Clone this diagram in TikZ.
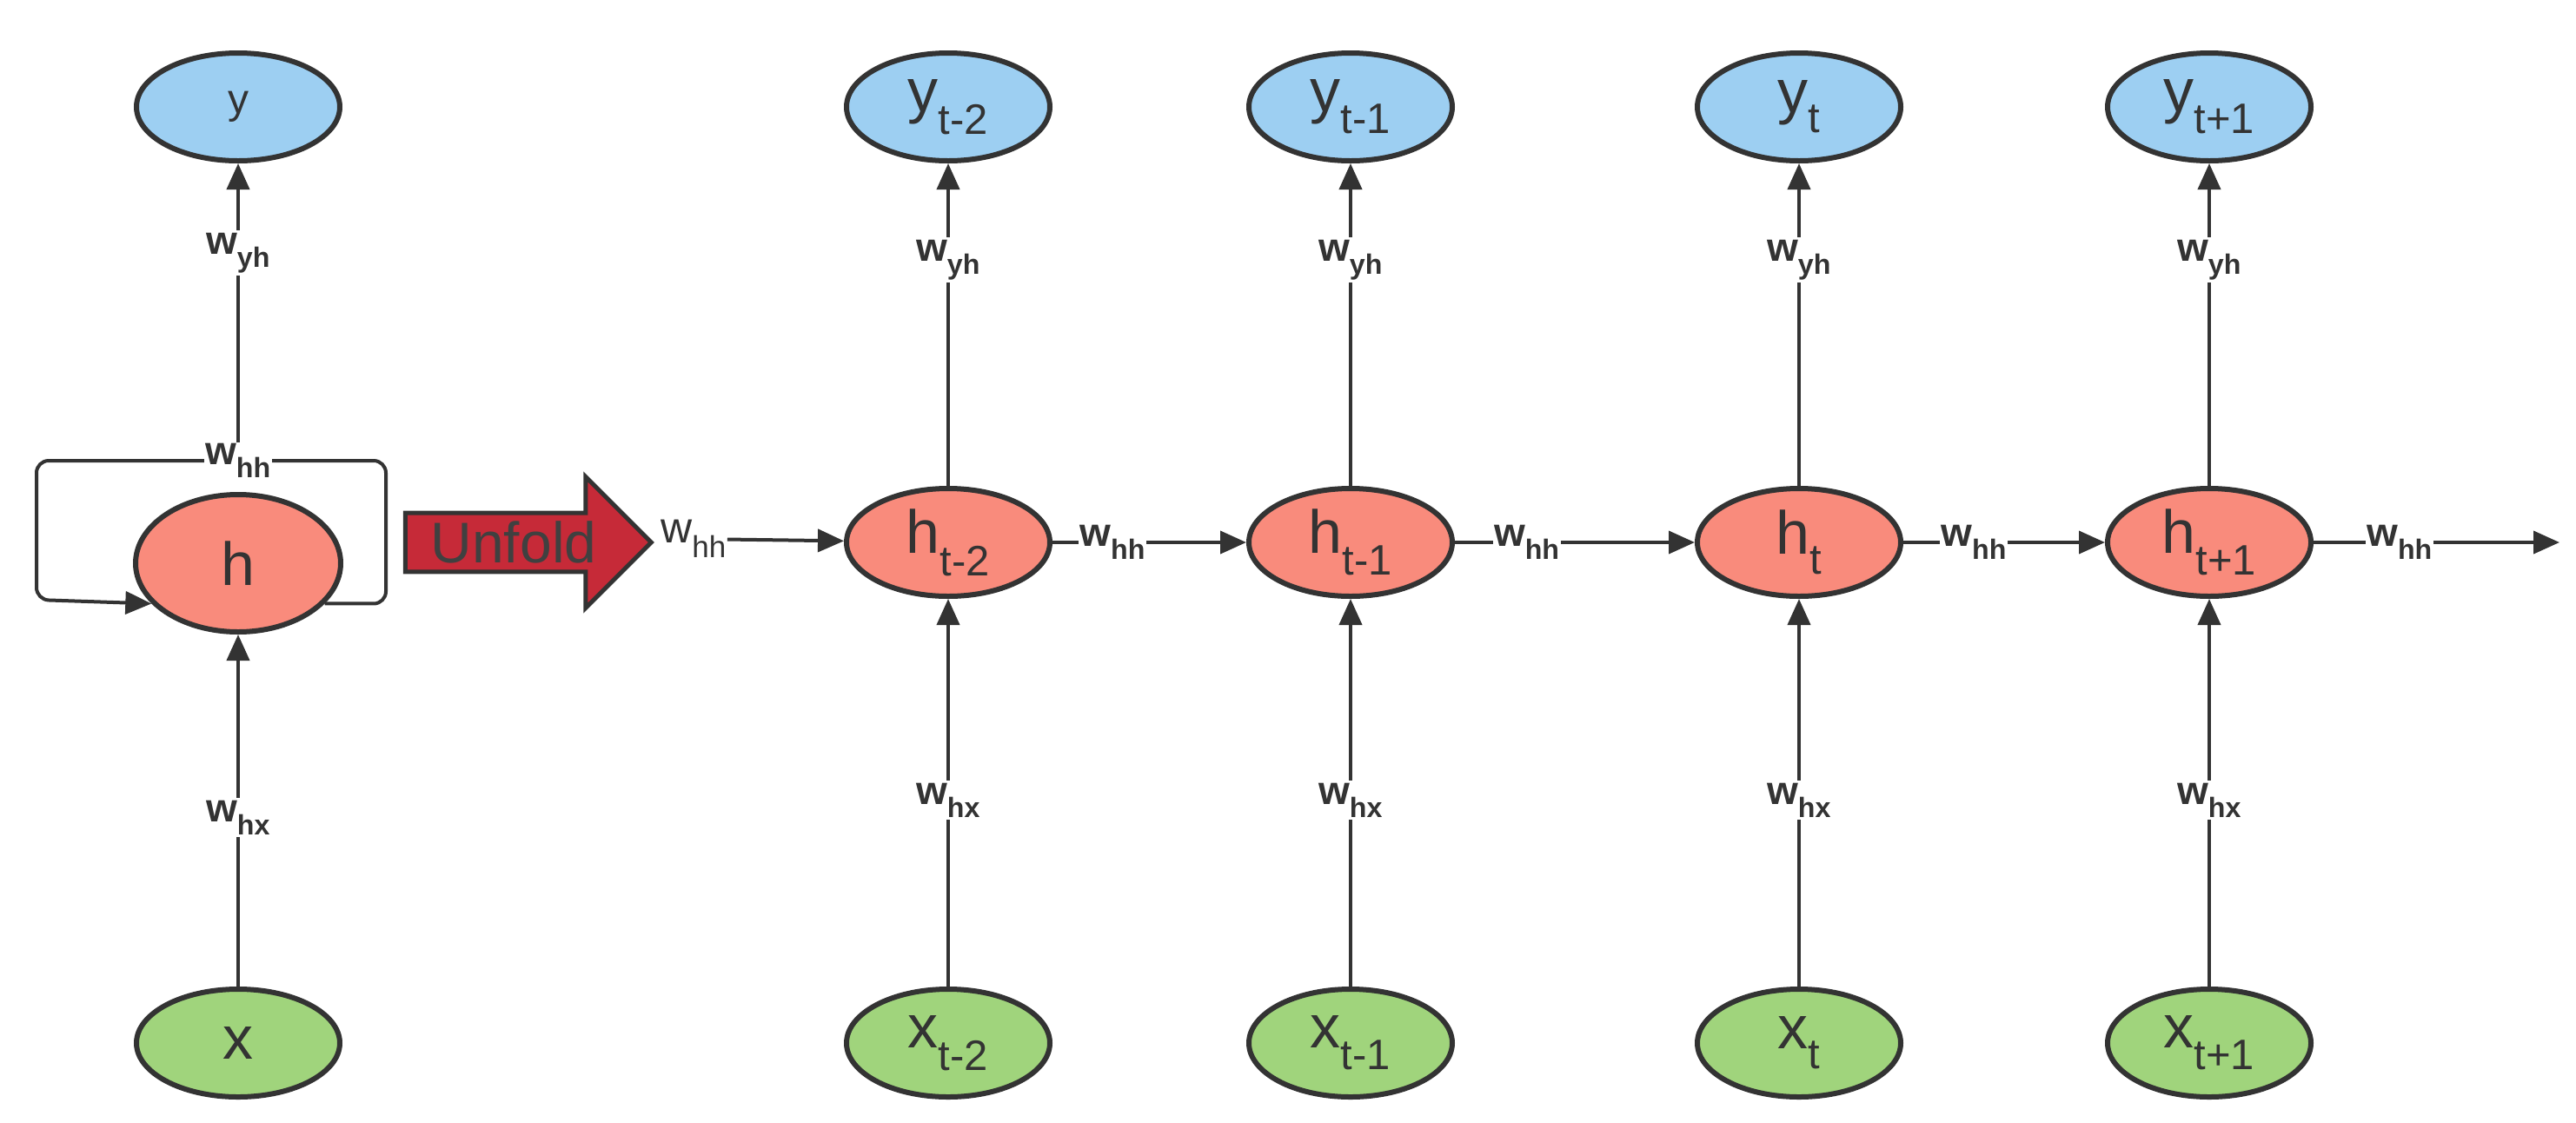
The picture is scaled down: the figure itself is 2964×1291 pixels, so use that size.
\documentclass[tikz,border=0pt]{standalone}
\usepackage{fontspec}
\setmainfont{Liberation Sans}
\usetikzlibrary{arrows.meta,shapes.geometric,shapes.arrows}
\definecolor{cy}{HTML}{9DCFF2}
\definecolor{ch}{HTML}{F98B7C}
\definecolor{cx}{HTML}{A0D47C}
\definecolor{cu}{HTML}{C62A38}
\definecolor{ln}{HTML}{333333}
\begin{document}
\begin{tikzpicture}[x=1pt,y=-1pt,
  ell/.style={ellipse,draw=ln,line width=6pt,minimum width=234pt,minimum height=124pt,inner sep=0pt,font=\fontsize{70}{80}\selectfont,text=black!80},
  yy/.style={ell,fill=cy},hh/.style={ell,fill=ch},xx/.style={ell,fill=cx},
  lab/.style={fill=white,inner sep=3pt,font=\bfseries\fontsize{46}{50}\selectfont,text=ln},
  ar/.style={line width=4pt,draw=ln,-{Triangle[length=30pt,width=26pt]}},
  pl/.style={line width=4pt,draw=ln}]
\useasboundingbox (0,0) rectangle (2964,1291);
% left folded
\node[yy,font=\fontsize{48}{50}\selectfont] (yL) at (274,123) {y};
\node[hh,minimum width=236pt,minimum height=158pt] (hL) at (274,648) {h};
\node[xx] (xL) at (274,1200) {x};
\draw[ar] (xL) -- node[lab,pos=0.48]{w\textsubscript{hx}} (hL);
\node[lab,inner sep=1pt] (wL) at (274,530) {w\textsubscript{hh}};
\draw[ar] (wL) -- node[lab,pos=0.68]{w\textsubscript{yh}} (yL);
\draw[pl,rounded corners=14pt] (hL.-25) -| (444,530) -- (wL.east);
\draw[ar,rounded corners=14pt] (wL.west) -| (42,690) -- (hL.205);
% unfold arrow
\node[single arrow,draw=ln,line width=5pt,fill=cu,minimum width=151pt,minimum height=283pt,single arrow head extend=33pt,inner sep=0pt,font=\fontsize{66}{70}\selectfont,text=black!75] (U) at (591,624) {Unfold\hspace{50pt}};
% unfolded
\foreach \i/\xc/\s in {1/1091/t-2,2/1554/t-1,3/2070/t,4/2542/t+1}{
  \node[yy] (y\i) at (\xc,123) {y\textsubscript{\s}};
  \node[hh] (h\i) at (\xc,624) {h\textsubscript{\s}};
  \node[xx] (x\i) at (\xc,1200) {x\textsubscript{\s}};
  \draw[ar] (x\i) -- node[lab,pos=0.48]{w\textsubscript{hx}} (h\i);
  \draw[ar] (h\i) -- node[lab,pos=0.7]{w\textsubscript{yh}} (y\i);
}
\node[lab,font=\fontsize{50}{54}\selectfont,inner sep=1pt] (w0) at (798,620) {w\textsubscript{hh}};
\draw[ar] (w0) -- (h1);
\draw[ar] (h1) -- node[lab,pos=0.31,inner sep=1pt]{w\textsubscript{hh}} (h2);
\draw[ar] (h2) -- node[lab,pos=0.3,inner sep=1pt]{w\textsubscript{hh}} (h3);
\draw[ar] (h3) -- node[lab,pos=0.35,inner sep=1pt]{w\textsubscript{hh}} (h4);
\coordinate (e) at (2945,624);
\draw[ar] (h4) -- node[lab,pos=0.35,inner sep=1pt]{w\textsubscript{hh}} (e);
\end{tikzpicture}
\end{document}
